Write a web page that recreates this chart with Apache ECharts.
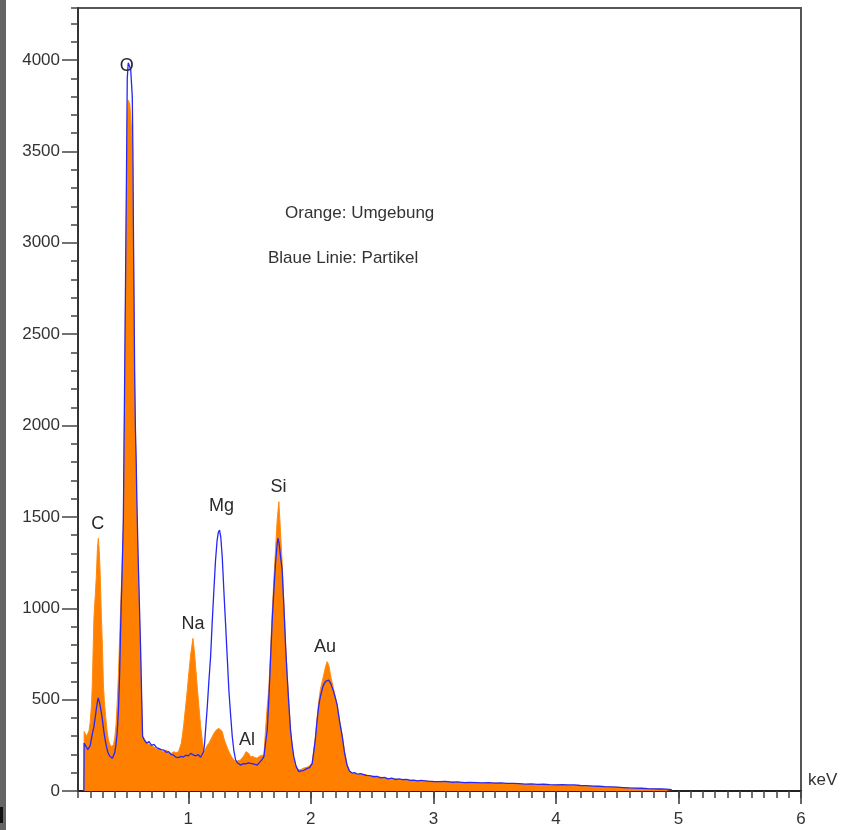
<!DOCTYPE html>
<html>
<head>
<meta charset="utf-8">
<script src="https://cdn.jsdelivr.net/npm/echarts@6/dist/echarts.min.js"></script>
<style>
  html, body { margin: 0; padding: 0; background: #fff; }
  #chart { width: 849px; height: 830px; }
</style>
</head>
<body>
<div id="chart"></div>
<script>
// EDX spectrum: orange = Umgebung (surroundings), blue line = Partikel
const umgebung = [
  [0.149, 0], [0.15, 325], [0.16, 330], [0.17, 300], [0.18, 315], [0.19, 330], [0.20, 380], [0.21, 470],
  [0.217, 590], [0.22, 680], [0.23, 950], [0.24, 1060], [0.25, 1180], [0.258, 1320], [0.266, 1383],
  [0.272, 1330], [0.279, 1227], [0.285, 1100], [0.291, 954], [0.30, 780], [0.307, 590], [0.315, 490],
  [0.326, 407], [0.337, 330], [0.348, 279], [0.36, 255], [0.375, 242], [0.39, 255], [0.40, 290],
  [0.41, 360], [0.42, 480], [0.43, 640], [0.44, 840], [0.45, 1040], [0.46, 1230], [0.47, 1450],
  [0.48, 2100], [0.488, 2700], [0.496, 3250], [0.502, 3650], [0.51, 3780], [0.516, 3790], [0.522, 3760],
  [0.53, 3700], [0.543, 3550], [0.548, 3300], [0.552, 3000], [0.557, 2600], [0.562, 2250], [0.568, 1950],
  [0.575, 1750], [0.58, 1550], [0.59, 1250], [0.60, 1000], [0.61, 760], [0.62, 470], [0.627, 300],
  [0.64, 290], [0.66, 265], [0.68, 255], [0.70, 250], [0.72, 240], [0.74, 230], [0.76, 235], [0.78, 220],
  [0.80, 215], [0.82, 225], [0.84, 210], [0.86, 205], [0.88, 215], [0.90, 210], [0.92, 215], [0.943, 261],
  [0.955, 320], [0.964, 370], [0.978, 460], [0.992, 553], [1.005, 650], [1.02, 750], [1.038, 835],
  [1.05, 760], [1.06, 680], [1.073, 570], [1.087, 461], [1.10, 360], [1.114, 279], [1.127, 205],
  [1.14, 230], [1.155, 250], [1.168, 261], [1.19, 290], [1.209, 315], [1.23, 335], [1.25, 343],
  [1.265, 335], [1.277, 325], [1.29, 290], [1.304, 261], [1.325, 225], [1.345, 197], [1.365, 175],
  [1.386, 160], [1.405, 165], [1.426, 170], [1.445, 185], [1.46, 200], [1.47, 215], [1.481, 224],
  [1.495, 205], [1.508, 188], [1.525, 190], [1.545, 182], [1.563, 180], [1.58, 190], [1.60, 195],
  [1.617, 197], [1.63, 330], [1.644, 461], [1.657, 560], [1.67, 740], [1.685, 980], [1.70, 1180],
  [1.712, 1320], [1.725, 1480], [1.739, 1583], [1.75, 1450], [1.766, 1250], [1.775, 1100], [1.785, 950],
  [1.795, 790], [1.807, 640], [1.82, 490], [1.834, 340], [1.848, 240], [1.861, 180], [1.88, 130],
  [1.902, 115], [1.92, 118], [1.94, 125], [1.955, 122], [1.97, 130], [1.99, 138], [2.011, 155],
  [2.025, 230], [2.038, 300], [2.05, 390], [2.065, 490], [2.079, 560], [2.10, 620], [2.12, 680],
  [2.133, 708], [2.146, 690], [2.165, 620], [2.185, 560], [2.20, 515], [2.215, 470], [2.235, 385],
  [2.256, 305], [2.275, 215], [2.296, 145], [2.315, 112], [2.337, 95], [2.36, 98], [2.38, 88], [2.405, 92],
  [2.42, 88], [2.45, 90], [2.48, 80], [2.51, 82], [2.54, 74], [2.57, 76], [2.60, 70], [2.63, 68],
  [2.66, 64], [2.69, 66], [2.72, 60], [2.75, 63], [2.78, 58], [2.81, 60], [2.84, 56], [2.87, 57],
  [2.90, 52], [2.95, 55], [3.00, 49], [3.05, 50], [3.10, 47], [3.15, 49], [3.20, 45], [3.25, 47],
  [3.30, 43], [3.35, 44], [3.40, 42], [3.45, 43], [3.50, 44], [3.55, 40], [3.60, 41], [3.65, 38],
  [3.70, 40], [3.75, 35], [3.80, 36], [3.85, 33], [3.90, 35], [3.95, 32], [4.00, 33], [4.05, 31],
  [4.10, 30], [4.15, 30], [4.20, 28], [4.25, 27], [4.30, 26], [4.35, 24], [4.40, 23], [4.45, 21],
  [4.50, 20], [4.55, 18], [4.60, 16], [4.65, 15], [4.70, 13], [4.75, 12], [4.80, 11], [4.85, 10],
  [4.90, 8], [4.94, 7]
];

const partikel = [
  [0.148, 0], [0.15, 262], [0.16, 255], [0.17, 238], [0.18, 226], [0.19, 236], [0.20, 250], [0.21, 288],
  [0.22, 322], [0.23, 352], [0.24, 400], [0.25, 450], [0.26, 495], [0.266, 510], [0.27, 502], [0.28, 470],
  [0.29, 430], [0.30, 385], [0.31, 330], [0.32, 285], [0.33, 250], [0.34, 220], [0.35, 202], [0.36, 190],
  [0.37, 182], [0.38, 179], [0.39, 186], [0.40, 210], [0.41, 255], [0.42, 320], [0.43, 440], [0.44, 650],
  [0.45, 950], [0.46, 1200], [0.47, 1480], [0.48, 2200], [0.488, 2800], [0.496, 3400], [0.502, 3900],
  [0.51, 3985], [0.516, 3995], [0.522, 3980], [0.53, 3950], [0.543, 3800], [0.548, 3500], [0.552, 3100],
  [0.557, 2700], [0.562, 2300], [0.568, 2000], [0.575, 1800], [0.58, 1600], [0.59, 1300], [0.60, 1050],
  [0.61, 800], [0.62, 500], [0.627, 300], [0.64, 280], [0.66, 262], [0.68, 270], [0.70, 250], [0.72, 255],
  [0.74, 238], [0.76, 232], [0.78, 226], [0.80, 224], [0.82, 212], [0.84, 215], [0.86, 200], [0.88, 196],
  [0.90, 185], [0.92, 183], [0.94, 190], [0.96, 186], [0.98, 196], [1.00, 192], [1.02, 206], [1.04, 198],
  [1.06, 192], [1.08, 200], [1.10, 185], [1.114, 180], [1.125, 215], [1.133, 261], [1.145, 370],
  [1.155, 461], [1.168, 600], [1.182, 735], [1.195, 920], [1.209, 1100], [1.222, 1260], [1.235, 1370],
  [1.245, 1415], [1.255, 1428], [1.265, 1390], [1.277, 1282], [1.29, 1100], [1.304, 918], [1.318, 730],
  [1.331, 553], [1.345, 420], [1.359, 297], [1.372, 220], [1.386, 170], [1.40, 155], [1.426, 142],
  [1.45, 150], [1.47, 148], [1.49, 154], [1.508, 151], [1.53, 148], [1.545, 150], [1.563, 142],
  [1.58, 155], [1.60, 170], [1.617, 188], [1.63, 260], [1.644, 334], [1.657, 500], [1.67, 700],
  [1.685, 936], [1.70, 1120], [1.712, 1246], [1.725, 1350], [1.731, 1383], [1.74, 1360], [1.75, 1300],
  [1.766, 1209], [1.775, 1080], [1.785, 936], [1.795, 780], [1.807, 625], [1.82, 480], [1.834, 334],
  [1.848, 250], [1.861, 188], [1.88, 135], [1.902, 106], [1.92, 110], [1.94, 112], [1.955, 118],
  [1.97, 124], [1.99, 128], [2.011, 150], [2.025, 220], [2.038, 290], [2.05, 380], [2.065, 470],
  [2.079, 520], [2.10, 575], [2.12, 600], [2.146, 607], [2.165, 585], [2.185, 545], [2.20, 510],
  [2.215, 470], [2.235, 380], [2.256, 300], [2.275, 210], [2.296, 140], [2.315, 110], [2.337, 98],
  [2.36, 100], [2.38, 92], [2.405, 95],
  [2.42, 92], [2.45, 86], [2.48, 84], [2.51, 78], [2.54, 80], [2.57, 72], [2.60, 75], [2.63, 66],
  [2.66, 70], [2.69, 63], [2.72, 66], [2.75, 62], [2.78, 64], [2.81, 58], [2.84, 60], [2.87, 55],
  [2.90, 58], [2.95, 54], [3.00, 52], [3.05, 51], [3.10, 52], [3.15, 48], [3.20, 50], [3.25, 46],
  [3.30, 47], [3.35, 46], [3.40, 45], [3.45, 46], [3.50, 43], [3.55, 44], [3.60, 42], [3.65, 42],
  [3.70, 40], [3.75, 38], [3.80, 39], [3.85, 36], [3.90, 37], [3.95, 35], [4.00, 34], [4.05, 35],
  [4.10, 33], [4.15, 33], [4.20, 30], [4.25, 29], [4.30, 27], [4.35, 26], [4.40, 24], [4.45, 23],
  [4.50, 21], [4.55, 19], [4.60, 17], [4.65, 16], [4.70, 15], [4.75, 13], [4.80, 12], [4.85, 11],
  [4.90, 10], [4.945, 8]
];

// element labels placed at (keV, counts)
const peakNames = ['O', 'C', 'Na', 'Mg', 'Al', 'Si', 'Au'];
const peakKeV = [0.497, 0.261, 1.039, 1.272, 1.479, 1.736, 2.115];
const peakCounts = [3967, 1461, 914, 1560, 279, 1663, 788];

const xLabels = [1, 2, 3, 4, 5, 6];
const yLabels = [0, 500, 1000, 1500, 2000, 2500, 3000, 3500, 4000];

const FONT = '"Liberation Sans", Arial, sans-serif';
const TXT = '#333';

const chart = echarts.init(document.getElementById('chart'));

const xBase = { type: 'value', min: 0.1, max: 6, gridIndex: 0, position: 'bottom', splitLine: { show: false } };
const yBase = { type: 'value', min: 0, max: 4285, gridIndex: 0, position: 'left', splitLine: { show: false } };

chart.setOption({
  animation: false,
  backgroundColor: '#fff',
  grid: {
    left: 78, right: 48, top: 8, bottom: 39,
    show: true, borderColor: '#555', borderWidth: 2, backgroundColor: 'transparent'
  },
  xAxis: [
    Object.assign({}, xBase, {
      name: 'keV',
      nameLocation: 'end',
      nameGap: 7,
      nameTextStyle: { fontFamily: FONT, fontSize: 17, color: TXT, align: 'left', verticalAlign: 'bottom', padding: [0, 0, 2, 0] },
      axisLine: { show: true, lineStyle: { color: '#222', width: 2 } },
      axisTick: { show: true, customValues: xLabels, length: 13, lineStyle: { color: '#333', width: 1.5 } },
      axisLabel: { show: true, customValues: xLabels, margin: 20, fontFamily: FONT, fontSize: 17, color: TXT, formatter: v => String(v) }
    }),
    Object.assign({}, xBase, {
      interval: 0.1,
      axisLine: { show: false },
      axisTick: { show: true, length: 7, lineStyle: { color: '#444', width: 1.5 } },
      axisLabel: { show: false }
    })
  ],
  yAxis: [
    Object.assign({}, yBase, {
      axisLine: { show: true, lineStyle: { color: '#333', width: 2 } },
      axisTick: { show: true, customValues: yLabels, length: 16, lineStyle: { color: '#444', width: 1.5 } },
      axisLabel: { show: true, customValues: yLabels, margin: 18, fontFamily: FONT, fontSize: 17, color: TXT, formatter: v => String(v) }
    }),
    Object.assign({}, yBase, {
      interval: 100,
      axisLine: { show: false },
      axisTick: { show: true, length: 7, lineStyle: { color: '#444', width: 1.5 } },
      axisLabel: { show: false }
    })
  ],
  series: [
    {
      name: 'Umgebung',
      type: 'line',
      data: umgebung,
      xAxisIndex: 0, yAxisIndex: 0,
      showSymbol: false,
      symbol: 'none',
      lineStyle: { color: '#ff8a10', width: 1 },
      areaStyle: { color: '#ff8000', opacity: 1 },
      z: 2
    },
    {
      name: 'Partikel',
      type: 'line',
      data: partikel,
      xAxisIndex: 0, yAxisIndex: 0,
      showSymbol: false,
      symbol: 'none',
      lineStyle: { color: '#2626f5', width: 1.3 },
      z: 3
    },
    {
      name: 'Elemente',
      type: 'scatter',
      xAxisIndex: 0, yAxisIndex: 0,
      symbolSize: 0,
      itemStyle: { color: 'transparent', opacity: 1 },
      data: peakNames.map((n, i) => ({ name: n, value: [peakKeV[i], peakCounts[i]] })),
      label: {
        show: true,
        position: 'inside',
        formatter: p => p.name,
        fontFamily: FONT,
        fontSize: 18,
        color: '#2a2a2a',
        opacity: 1
      },
      z: 4
    }
  ],
  graphic: [
    { type: 'rect', left: 0, top: 0, shape: { width: 6, height: 830 }, style: { fill: '#646464' } },
    { type: 'rect', left: 0, top: 807, shape: { width: 3, height: 16 }, style: { fill: '#111' } },
    {
      type: 'text', left: 285, top: 205,
      style: { text: 'Orange: Umgebung', font: '17px ' + FONT, fill: TXT }
    },
    {
      type: 'text', left: 268, top: 250,
      style: { text: 'Blaue Linie: Partikel', font: '17px ' + FONT, fill: TXT }
    }
  ]
});
</script>
</body>
</html>
